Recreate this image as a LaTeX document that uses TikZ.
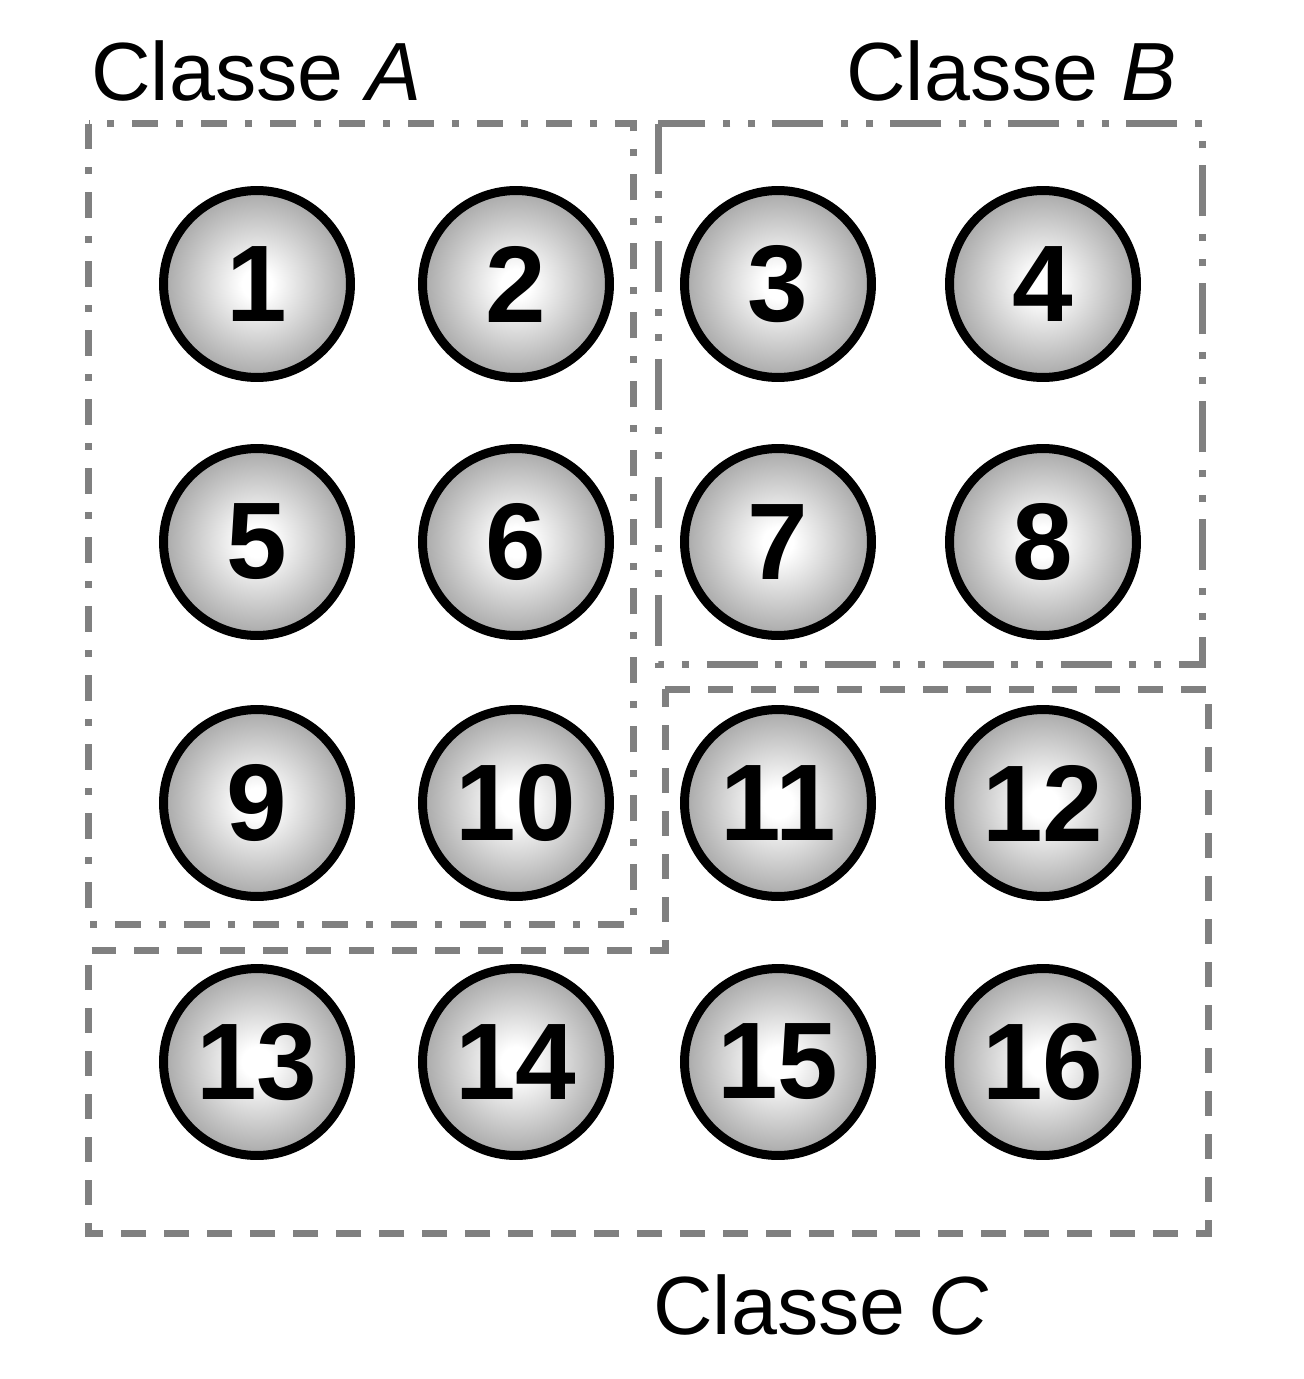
\documentclass[tikz,border=0pt]{standalone}
\usepackage{fontspec}
\setmainfont{Liberation Sans}
\pgfdeclareradialshading{ballshade}{\pgfpoint{0bp}{0bp}}{color(0bp)=(white); color(4bp)=(white); color(25bp)=(black!34); color(50bp)=(black!34)}
\begin{document}
\begin{tikzpicture}[x=0.02cm,y=-0.02cm,
  ball/.style={circle, draw=black, line width=0.18cm, minimum size=3.74cm, inner sep=0pt,
    shading=ballshade, font=\fontsize{62}{62}\selectfont\bfseries},
  frameline/.style={draw=black!50, line width=0.14cm, line cap=butt, line join=miter},
  dashdotA/.style={dash pattern=on 0.52cm off 0.36cm on 0.14cm off 0.36cm},
  dashdotdotB/.style={dash pattern=on 1.02cm off 0.34cm on 0.14cm off 0.36cm on 0.14cm off 0.36cm},
  dashedC/.style={dash pattern=on 0.5cm off 0.36cm},
  lab/.style={anchor=base west, inner sep=0pt, font=\fontsize{47}{50}\selectfont}]
\useasboundingbox (0,0) rectangle (1303,1379);

% frames
\draw[frameline, dashdotA] (88.5,123.5) rectangle (633,924.5);
\draw[frameline, dashdotdotB] (658,123.5) rectangle (1202.5,664.5);
\draw[frameline, dashedC] (665,689) -- (1208.5,689) -- (1208.5,1233) -- (88.5,1233) -- (88.5,950) -- (665,950) -- cycle;

% balls
\node[ball] (n1)  at (257,284) {1};
\node[ball] (n2)  at (516,284) {2};
\node[ball] (n3)  at (778,284) {3};
\node[ball] (n4)  at (1043,284) {4};
\node[ball] (n5)  at (257,542) {5};
\node[ball] (n6)  at (516,542) {6};
\node[ball] (n7)  at (778,542) {7};
\node[ball] (n8)  at (1043,542) {8};
\node[ball] (n9)  at (257,803) {9};
\node[ball] (n10) at (516,803) {10};
\node[ball] (n11) at (778,803) {11};
\node[ball] (n12) at (1043,803) {12};
\node[ball] (n13) at (257,1062) {13};
\node[ball] (n14) at (516,1062) {14};
\node[ball] (n15) at (778,1062) {15};
\node[ball] (n16) at (1043,1062) {16};

% labels
\node[lab] (labA) at (91,100) {Classe \textit{A}};
\node[lab] (labB) at (846,100) {Classe \textit{B}};
\node[lab] (labC) at (653,1334) {Classe \textit{C}};
\end{tikzpicture}
\end{document}
